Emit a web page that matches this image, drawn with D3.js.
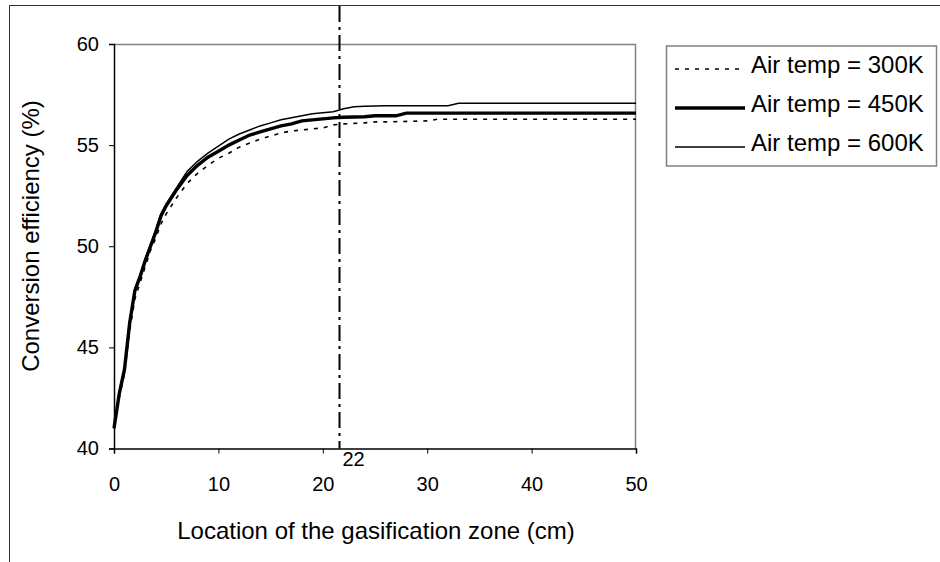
<!DOCTYPE html>
<html>
<head>
<meta charset="utf-8">
<script src="https://cdn.jsdelivr.net/npm/d3@7"></script>
<style>
  body { margin: 0; background: #fff; }
  text { font-family: "Liberation Sans", Arial, sans-serif; fill: #000; }
</style>
</head>
<body>
<div id="chart"></div>
<script>
// location (cm) and conversion efficiency (%)
var x300 = [0, 0.5, 1, 1.5, 2, 2.5, 3, 3.5, 4, 4.5, 5, 6, 7, 8, 9, 10, 11, 12, 13, 14, 15, 16, 17, 18, 19, 20, 21, 22, 24, 25, 26, 30, 31, 50];
var y300 = [41, 42.5, 43.7, 45.8, 47.4, 48.2, 49.0, 49.8, 50.4, 51.1, 51.6, 52.4, 53.1, 53.6, 54.0, 54.35, 54.6, 54.9, 55.1, 55.3, 55.45, 55.6, 55.7, 55.75, 55.8, 55.85, 56.0, 56.05, 56.1, 56.15, 56.15, 56.2, 56.28, 56.28];

var x450 = [0, 0.5, 1, 1.5, 2, 2.5, 3, 3.5, 4, 4.5, 5, 6, 7, 8, 9, 10, 11, 12, 13, 14, 15, 16, 17, 18, 19, 20, 21, 22, 24, 25, 27, 28, 50];
var y450 = [41, 42.7, 43.9, 46.2, 47.8, 48.5, 49.3, 50.0, 50.7, 51.5, 52.0, 52.8, 53.5, 54.0, 54.4, 54.7, 55.0, 55.25, 55.5, 55.65, 55.8, 55.95, 56.05, 56.2, 56.25, 56.3, 56.35, 56.38, 56.4, 56.45, 56.45, 56.58, 56.58];

var x600 = [0, 0.5, 1, 1.5, 2, 2.5, 3, 3.5, 4, 4.5, 5, 6, 7, 8, 9, 10, 11, 12, 13, 14, 15, 16, 17, 18, 19, 20, 21, 22, 23, 24, 26, 32, 33, 50];
var y600 = [41, 42.8, 44.0, 46.3, 47.9, 48.6, 49.4, 50.1, 50.8, 51.6, 52.1, 52.9, 53.7, 54.2, 54.6, 54.95, 55.3, 55.55, 55.75, 55.95, 56.1, 56.25, 56.35, 56.45, 56.55, 56.6, 56.65, 56.8, 56.9, 56.92, 56.95, 56.95, 57.07, 57.07];

var seriesNames = ['Air temp = 300K', 'Air temp = 450K', 'Air temp = 600K'];
var xTicks = [0, 10, 20, 30, 40, 50];
var yTicks = [40, 45, 50, 55, 60];
var marker = 21.6, markerLabel = '22';

var width = 940, height = 562;
var pLeft = 114, pRight = 636, pTop = 44, pBottom = 448.5;

var svg = d3.select('#chart')
			.append('svg')
			.attr('width', width)
			.attr('height', height);

// outer chart frame
svg.append('rect')
	.attr('x', 9.5).attr('y', 5.5)
	.attr('width', 940).attr('height', 570)
	.attr('fill', 'none')
	.attr('stroke', '#333');

var x = d3.scaleLinear().domain([0, 50]).range([pLeft, pRight]);
var y = d3.scaleLinear().domain([40, 60]).range([pBottom, pTop]);

// plot area border (top and right)
svg.append('path')
	.attr('d', 'M' + pLeft + ',' + (pTop + 0.5) + 'H' + (pRight - 0.5) + 'V' + pBottom)
	.attr('fill', 'none')
	.attr('stroke', '#808080')
	.attr('stroke-width', 1.5);

var xAxis = svg.append('g')
	.attr('transform', 'translate(0,' + pBottom + ')')
	.call(d3.axisBottom(x).tickValues(xTicks).tickSize(5).tickPadding(23));

var yAxis = svg.append('g')
	.attr('transform', 'translate(' + pLeft + ',0)')
	.call(d3.axisLeft(y).tickValues(yTicks).tickSize(5).tickPadding(10));

[xAxis, yAxis].forEach(a => {
	a.selectAll('path').attr('stroke', '#000').attr('stroke-width', 1.5);
	a.selectAll('line').attr('stroke', '#000');
	a.selectAll('text').style('font-size', '20px').attr('fill', '#000');
});

// vertical marker
svg.append('line')
	.attr('x1', x(marker)).attr('x2', x(marker))
	.attr('y1', pTop - 38).attr('y2', pBottom)
	.attr('stroke', '#000')
	.attr('stroke-width', 2)
	.attr('stroke-dasharray', '16,5,3,5');

svg.append('text')
	.attr('x', x(marker) + 3)
	.attr('y', pBottom + 17)
	.style('font-size', '20px')
	.text(markerLabel);

var styles = [
	{ w: 1.6, dash: '4,6' },
	{ w: 3.4, dash: null },
	{ w: 1.5, dash: null }
];

var line = d3.line().x(d => x(d[0])).y(d => y(d[1]));

var series = [
	d3.zip(x300, y300),
	d3.zip(x450, y450),
	d3.zip(x600, y600)
];

series.forEach((s, i) => {
	svg.append('path')
		.datum(s)
		.attr('d', line)
		.attr('fill', 'none')
		.attr('stroke', '#000')
		.attr('stroke-width', styles[i].w)
		.attr('stroke-dasharray', styles[i].dash);
});

// legend
var lg = svg.append('g');
lg.append('rect')
	.attr('x', 666.5).attr('y', 46)
	.attr('width', 270).attr('height', 120)
	.attr('fill', '#fff')
	.attr('stroke', '#808080')
	.attr('stroke-width', 1.5);

seriesNames.forEach((name, i) => {
	var ly = 69 + i * 39;
	lg.append('line')
		.attr('x1', 675).attr('x2', 745)
		.attr('y1', ly).attr('y2', ly)
		.attr('stroke', '#000')
		.attr('stroke-width', styles[i].w)
		.attr('stroke-dasharray', styles[i].dash);
	lg.append('text')
		.attr('x', 751).attr('y', ly + 4)
		.style('font-size', '24px')
		.text(name);
});

// axis titles
svg.append('text')
	.attr('x', 376)
	.attr('y', 539)
	.attr('text-anchor', 'middle')
	.style('font-size', '24px')
	.text('Location of the gasification zone (cm)');

svg.append('text')
	.attr('transform', 'translate(39,236) rotate(-90)')
	.attr('text-anchor', 'middle')
	.style('font-size', '24px')
	.text('Conversion efficiency (%)');
</script>
</body>
</html>
